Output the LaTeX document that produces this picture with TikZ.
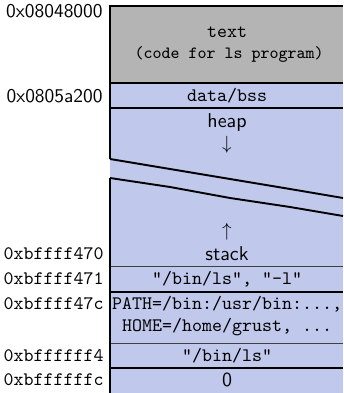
\documentclass[tikz,border=0pt]{standalone}
\begin{document}
\definecolor{segtext}{RGB}{180,180,180}
\definecolor{segblue}{RGB}{192,200,236}
\begin{tikzpicture}[x=0.525pt,y=-0.525pt,
  addr/.style={anchor=east, inner sep=0pt, font=\fontsize{10.2}{12}\selectfont\sffamily},
  addrtt/.style={anchor=east, inner sep=0pt, font=\ttfamily},
  cell/.style={inner sep=0pt, font=\ttfamily},
  cellsf/.style={inner sep=0pt, font=\fontsize{10.5}{12}\selectfont\sffamily},
  thickrule/.style={line width=1pt, black},
  thinrule/.style={line width=0.5pt, black!75},
  border/.style={line width=1.3pt, black},
  breakline/.style={line width=1pt, black}]
\useasboundingbox (0,0) rectangle (343,393);

% segment fills
\fill[segtext] (110,6) rectangle (343,83);
\fill[segblue] (110,83) rectangle (343,393);

% segment separators
\draw[thickrule] (110,83) -- (343,83);
\draw[thickrule] (110,108) -- (343,108);
\draw[thinrule]  (110,266) -- (343,266);
\draw[thickrule] (110,292) -- (343,292);
\draw[thinrule]  (110,343) -- (343,343);
\draw[thickrule] (110,368) -- (343,368);

% gap between heap and stack
\draw[breakline] (110,159) -- (170,169) -- (230,179) -- (290,189) -- (343,198);
\draw[breakline] (110,178) -- (170,187) -- (230,198) -- (290,207) -- (343,216);

% outer border
\draw[border] (343,6) -- (110,6) -- (110,159);
\draw[border] (110,178) -- (110,393);

% segment contents
\node[cell] (text) at (227,32) {text};
\node[cell, font=\fontsize{9}{11}\selectfont\ttfamily] (code) at (229,55) {(code for ls program)};
\node[cell] (data) at (227,96) {data/bss};
\node[cellsf] (heap) at (227,123) {heap};
\node[inner sep=0pt] (down) at (227,145) {$\downarrow$};
\node[inner sep=0pt] (up) at (227,232) {$\uparrow$};
\node[cellsf] (stack) at (227,254) {stack};
\node[cell] (argv) at (227,279) {"/bin/ls", "-l"};
\node[cell] (env1) at (227,304) {PATH=/bin:/usr/bin:...,};
\node[cell] (env2) at (227,327) {HOME=/home/grust, ...};
\node[cell] (prog) at (227,356) {"/bin/ls"};
\node[cellsf] (zero) at (227,380) {0};

% addresses
\node[addr] (a1) at (103,11) {0x08048000};
\node[addr] (a2) at (103,96) {0x0805a200};
\node[addrtt] (a3) at (104,254) {0xbffff470};
\node[addrtt] (a4) at (104,279) {0xbffff471};
\node[addrtt] (a5) at (104,304) {0xbffff47c};
\node[addrtt] (a6) at (104,356) {0xbffffff4};
\node[addrtt] (a7) at (104,380) {0xbffffffc};
\end{tikzpicture}
\end{document}
